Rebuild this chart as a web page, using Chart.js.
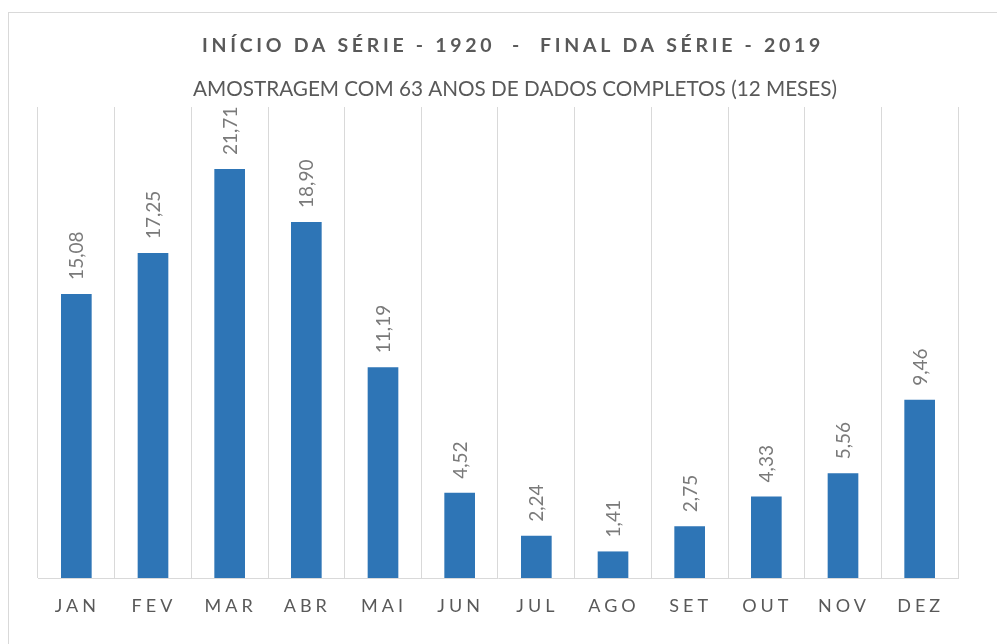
<!DOCTYPE html>
<html>
<head>
<meta charset="utf-8">
<script src="https://cdn.jsdelivr.net/npm/chart.js@4.4.1/dist/chart.umd.min.js"></script>
<style>
  html, body { margin: 0; padding: 0; background: #fff; overflow: hidden; }
  #wrap { position: relative; width: 997px; height: 644px; }
  #frame { position: absolute; left: 8px; top: 12px; width: 1000px; height: 700px; border: 1px solid #d9d9d9; box-sizing: border-box; }
  canvas { position: absolute; left: 0; top: 0; }
</style>
</head>
<body>
<div id="wrap">
  <div id="frame"></div>
  <canvas id="chuvaMensal" width="997" height="644"></canvas>
</div>
<script>
// precipitação média mensal
const meses = ['JAN', 'FEV', 'MAR', 'ABR', 'MAI', 'JUN', 'JUL', 'AGO', 'SET', 'OUT', 'NOV', 'DEZ'];
const medias = [15.08, 17.25, 21.71, 18.90, 11.19, 4.52, 2.24, 1.41, 2.75, 4.33, 5.56, 9.46];
const titulo = 'INÍCIO DA SÉRIE - 1920  -  FINAL DA SÉRIE - 2019';
const subtitulo = 'AMOSTRAGEM COM 63 ANOS DE DADOS COMPLETOS (12 MESES)';

const cinza = '#595959';
const fonte = 'Lato, "Open Sans", sans-serif';

// títulos, rótulos do eixo x e valores em cima das barras
const textos = {
  id: 'textos',
  afterDraw(chart) {
    const c = chart.ctx;
    const area = chart.chartArea;
    const x = chart.scales.x;
    c.save();
    c.fillStyle = cinza;
    c.textAlign = 'center';
    c.textBaseline = 'middle';

    c.font = 'bold 19.5px ' + fonte;
    c.letterSpacing = '3.7px';
    c.fillText(titulo, 513, 46);

    c.font = '20.7px ' + fonte;
    c.letterSpacing = '0px';
    c.fillText(subtitulo, 515, 89);

    c.font = '18px ' + fonte;
    c.letterSpacing = '4px';
    meses.forEach((m, i) => {
      c.fillText(m, x.getPixelForValue(i) + 1, area.bottom + 28);
    });

    c.font = '19px ' + fonte;
    c.fillStyle = '#7a7a7a';
    c.letterSpacing = '0px';
    c.textAlign = 'left';
    const meta = chart.getDatasetMeta(0);
    meta.data.forEach((bar, i) => {
      c.save();
      c.translate(bar.x + 1, bar.y - 14);
      c.rotate(-Math.PI / 2);
      c.fillText(medias[i].toFixed(2).replace('.', ','), 0, 0);
      c.restore();
    });
    c.restore();
  }
};

const ctx = document.getElementById('chuvaMensal').getContext('2d');
const graficoChuva = new Chart(ctx, {
  type: 'bar',
  data: {
    labels: meses,
    datasets: [{
      data: medias,
      backgroundColor: '#2e75b6',
      borderWidth: 0,
      barPercentage: 0.4,
      categoryPercentage: 1.0
    }]
  },
  options: {
    responsive: false,
    animation: false,
    layout: {
      padding: { left: 38, right: 39, top: 107, bottom: 66 }
    },
    scales: {
      x: {
        grid: { color: '#d9d9d9', lineWidth: 1, drawTicks: false, offset: true },
        border: { color: '#d9d9d9', width: 1 },
        ticks: { display: false },
        afterFit: (s) => { s.height = 0; }
      },
      y: {
        display: false,
        min: 0,
        max: 25
      }
    },
    plugins: {
      legend: { display: false },
      tooltip: { enabled: false }
    }
  },
  plugins: [textos]
});
</script>
</body>
</html>
